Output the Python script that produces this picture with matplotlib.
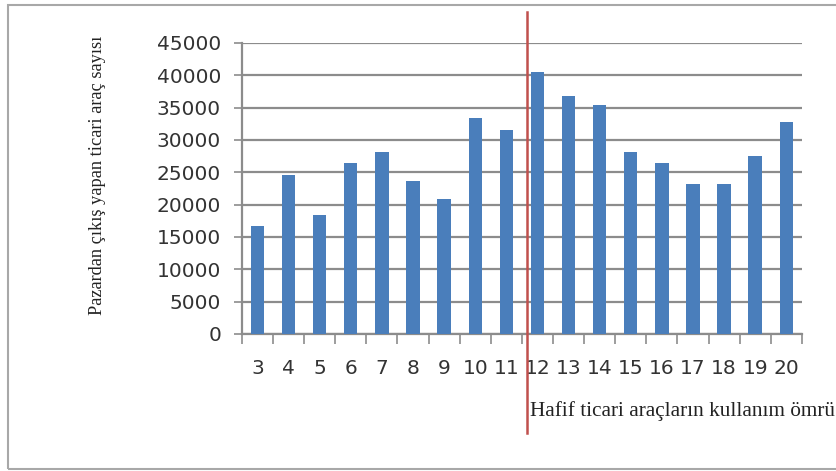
import matplotlib.pyplot as plt
from matplotlib.patches import Rectangle
import numpy as np

# kullanım ömrü (yıl) ve pazardan çıkış yapan araç sayısı
yillar = [3, 4, 5, 6, 7, 8, 9, 10, 11, 12, 13, 14, 15, 16, 17, 18, 19, 20]
arac_sayisi = [16700, 24500, 18400, 26500, 28200, 23700, 20900, 33400, 31500,
               40500, 36800, 35400, 28200, 26500, 23200, 23200, 27500, 32700]
yticks = [0, 5000, 10000, 15000, 20000, 25000, 30000, 35000, 40000, 45000]
ayrim = 11.65  # kırmızı ayırma çizgisi (yıl ekseninde)

fig = plt.figure(figsize=(8.37, 4.71), dpi=100)
ax = fig.add_axes([0.289, 0.291, 0.669, 0.618])

x = np.arange(len(yillar))
ax.bar(x, arac_sayisi, width=0.43, color="#4a7ebb", zorder=3)

ax.set_xlim(-0.5, len(yillar) - 0.5)
ax.set_ylim(0, 45000)
ax.set_yticks(yticks)
ax.set_yticklabels([str(v) for v in yticks])
ax.yaxis.grid(True, color="#8c8c8c", linewidth=1.6, zorder=0)

ax.set_xticks(x)
ax.set_xticklabels([str(y) for y in yillar])
ax.set_xticks(np.arange(len(yillar) + 1) - 0.5, minor=True)
ax.tick_params(axis="x", which="major", length=0, pad=18, labelsize=14.5, labelcolor="#333333")
ax.tick_params(axis="x", which="minor", length=7, width=1.2, color="#8c8c8c", direction="out")
ax.tick_params(axis="y", length=6, width=1.2, color="#8c8c8c", pad=9,
               labelsize=14.5, labelcolor="#333333")

for s in ["top", "right"]:
    ax.spines[s].set_visible(False)
for s in ["left", "bottom"]:
    ax.spines[s].set_color("#8c8c8c")
    ax.spines[s].set_linewidth(1.6)

# kırmızı dikey çizgi, eksen dışına taşıyor
xr = ayrim - yillar[0]
ax.axvline(xr, ymin=-0.34, ymax=1.107, color="#c0504d", linewidth=1.8,
           clip_on=False, zorder=4)

ax.set_ylabel("Pazardan çıkış yapan ticari araç sayısı", family="Liberation Serif",
              fontsize=13.2, color="#222222")
ax.yaxis.set_label_coords(-0.243, 0.546)

fig.text(530 / 837, (471 - 411) / 471, "Hafif ticari araçların kullanım ömrü",
         family="Liberation Serif", fontsize=15.3, color="#222222", va="center", ha="left")

# dış çerçeve
fig.patches.append(Rectangle((8 / 837, 2 / 471), 1.0, 464 / 471, transform=fig.transFigure,
                             fill=False, edgecolor="#a8a8a8", linewidth=1.5))

fig.savefig("out.png", dpi=100)
